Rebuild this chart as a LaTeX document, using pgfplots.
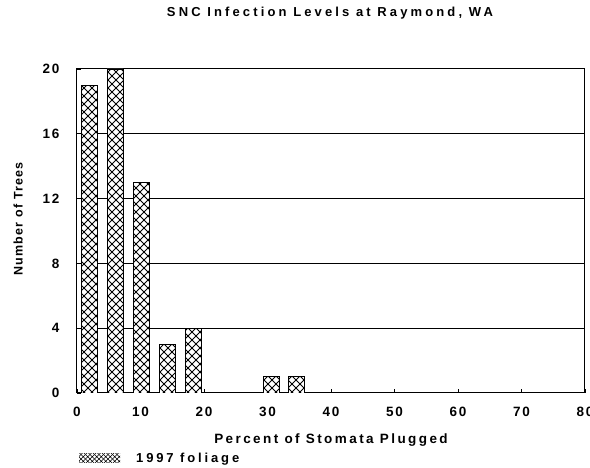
\documentclass[border=0pt]{standalone}
\usepackage{fontspec}
\setmainfont{Liberation Sans}[LetterSpace=22]
\newfontfamily\tickfont{Liberation Sans}[LetterSpace=14]
\newfontfamily\titlefont{Liberation Sans}[LetterSpace=24]
\newfontfamily\xlabfont{Liberation Sans}[LetterSpace=18]
\newfontfamily\ylabfont{Liberation Sans}[LetterSpace=10]
\usepackage{pgfplots}
\pgfplotsset{compat=1.18}
\usetikzlibrary{patterns}
\pgfdeclarepatternformonly{diamonds}{\pgfqpoint{-1pt}{-1pt}}{\pgfqpoint{9pt}{9pt}}{\pgfqpoint{8pt}{8pt}}{%
  \pgfsetlinewidth{0.85pt}%
  \pgfpathmoveto{\pgfqpoint{0pt}{0pt}}\pgfpathlineto{\pgfqpoint{8pt}{8pt}}%
  \pgfpathmoveto{\pgfqpoint{0pt}{8pt}}\pgfpathlineto{\pgfqpoint{8pt}{0pt}}%
  \pgfusepath{stroke}}
\pgfdeclarepatternformonly{smalldiamonds}{\pgfqpoint{-1pt}{-1pt}}{\pgfqpoint{5pt}{5pt}}{\pgfqpoint{4.5pt}{4.5pt}}{%
  \pgfsetlinewidth{0.6pt}%
  \pgfpathmoveto{\pgfqpoint{0pt}{0pt}}\pgfpathlineto{\pgfqpoint{4.5pt}{4.5pt}}%
  \pgfpathmoveto{\pgfqpoint{0pt}{4.5pt}}\pgfpathlineto{\pgfqpoint{4.5pt}{0pt}}%
  \pgfusepath{stroke}}
\pgfplotstableread{
x y
2.0 19
6.0 20
10.2 13
14.3 3
18.4 4
30.6 1
34.5 1
}\bins
\begin{document}
\begin{tikzpicture}
\useasboundingbox (0,0) rectangle (590pt,468pt);
\begin{axis}[
  at={(77pt,75pt)}, anchor=south west,
  scale only axis, width=508pt, height=324pt,
  xmin=0, xmax=80, ymin=0, ymax=20,
  xtick={0,10,...,80}, ytick={0,4,...,20},
  xtick pos=lower, ytick pos=left,
  tick align=inside, major tick length=4pt,
  tick style={black, line width=0.6pt},
  ymajorgrids, grid style={black, line width=1pt},
  axis line style={black, line width=1pt},
  /pgf/number format/assume math mode=true,
  ticklabel style={font=\tickfont\bfseries\fontsize{13.5}{13.5}\selectfont},
  yticklabel style={anchor=east, xshift=-14pt},
  xticklabel style={anchor=north, yshift=-11pt},
  xlabel={Percent of Stomata Plugged},
  ylabel={Number of Trees},
  title={SNC Infection Levels at Raymond, WA},
  xlabel style={at={(axis description cs:0.5,-0.155)}, anchor=base, font=\xlabfont\bfseries\fontsize{13.5}{13.5}\selectfont},
  ylabel style={at={(axis description cs:-0.116,0.537)}, anchor=center, font=\ylabfont\bfseries\fontsize{12.5}{12.5}\selectfont},
  title style={at={(axis description cs:0.498,1.142)}, anchor=base, font=\titlefont\bfseries\fontsize{13}{13}\selectfont},
  legend style={at={(axis description cs:0.004,-0.202)}, anchor=west, draw=none, fill=none,
    inner sep=0pt, font=\bfseries\fontsize{13}{13}\selectfont,
    /tikz/every odd column/.append style={column sep=14pt}},
  legend cell align=left,
]
\addplot[ybar, bar width=16pt, draw=none, fill=white, forget plot] table[x=x,y=y] {\bins};
\addplot[ybar, bar width=16pt, draw=black, line width=0.7pt, pattern=diamonds,
  legend image code/.code={\path[draw=none,pattern=smalldiamonds] (0pt,-4.5pt) rectangle (41pt,4.5pt);}]
  table[x=x,y=y] {\bins};
\addlegendentry{1997 foliage}
\end{axis}
\end{tikzpicture}
\end{document}
